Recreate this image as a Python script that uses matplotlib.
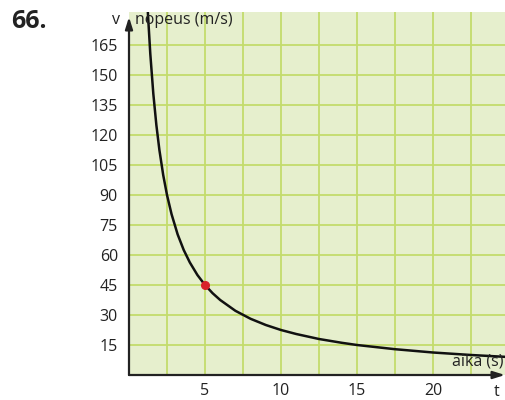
import matplotlib
matplotlib.use("Agg")
import matplotlib.pyplot as plt

# Data
t_vals = [1.15, 1.25, 1.4, 1.6, 1.8, 2.0, 2.25, 2.5, 2.8, 3.2, 3.6, 4.0, 4.5, 5.0,
          5.5, 6.0, 7.0, 8.0, 9.0, 10.0, 11.0, 12.5, 14.0, 15.0, 17.5, 20.0, 22.5, 24.7]
v_vals = [195.7, 180.0, 160.7, 140.6, 125.0, 112.5, 100.0, 90.0, 80.4, 70.3, 62.5, 56.3,
          50.0, 45.0, 40.9, 37.5, 32.1, 28.1, 25.0, 22.5, 20.5, 18.0, 16.1, 15.0, 12.9,
          11.25, 10.0, 9.1]
point_t = [5]
point_v = [45]
x_ticks = [5, 10, 15, 20]
y_ticks = [15, 30, 45, 60, 75, 90, 105, 120, 135, 150, 165]

plt.rcParams['font.family'] = ['Open Sans', 'DejaVu Sans']

fig = plt.figure(figsize=(5.05, 4.0), dpi=100)
ax = fig.add_axes([129/505, 25/400, 376/505, 363/400])
ax.set_facecolor('#e6efcd')
ax.set_xlim(0, 376/15.2)
ax.set_ylim(0, 181.5)

grid_c = '#c3dc6c'
ax.set_xticks(x_ticks)
ax.set_xticks([2.5 * k for k in range(1, 10)], minor=True)
ax.set_yticks(y_ticks)
ax.grid(True, which='both', color=grid_c, lw=1.3)
ax.set_axisbelow(True)
ax.tick_params(axis='both', which='both', length=0, labelsize=11.5, colors='#222222')
ax.tick_params(axis='x', pad=5.5)
ax.tick_params(axis='y', pad=8)
for s in ax.spines.values():
    s.set_visible(False)

ax.plot(t_vals, v_vals, color='#111111', lw=1.8, zorder=3)
ax.plot(point_t, point_v, 'o', color='#d8232a', ms=5.5, zorder=4)

# axis arrows
ax.annotate('', xy=(1.0, 0), xycoords='axes fraction', xytext=(0, 0),
            textcoords='axes fraction',
            arrowprops=dict(arrowstyle='-|>,head_length=0.7,head_width=0.22',
                            color='#222222', lw=1.6, shrinkA=0, shrinkB=0),
            annotation_clip=False)
ax.annotate('', xy=(0, 1.0 - 5/363), xycoords='axes fraction', xytext=(0, 0),
            textcoords='axes fraction',
            arrowprops=dict(arrowstyle='-|>,head_length=0.7,head_width=0.22',
                            color='#222222', lw=1.6, shrinkA=0, shrinkB=0),
            annotation_clip=False)

fig.text(11/505, 1 - 21/400, '66.', fontsize=18, fontweight='bold', va='center',
         ha='left', color='#222222')
fig.text(120/505, 1 - 20/400, 'v', fontsize=11.5, va='center', ha='right', color='#222222')
fig.text(135/505, 1 - 20/400, 'nopeus (m/s)', fontsize=11.5, va='center', ha='left',
         color='#222222')
fig.text(503/505, 1 - 362/400, 'aika (s)', fontsize=11.5, va='center', ha='right',
         color='#222222')
fig.text(497/505, 1 - 392/400, 't', fontsize=11.5, va='center', ha='center',
         color='#222222')

fig.savefig('out.png', dpi=100)
